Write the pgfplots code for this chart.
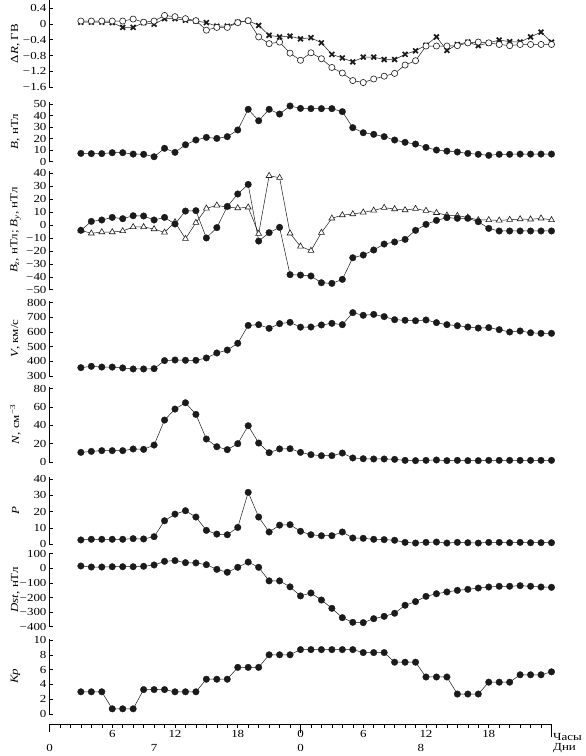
\documentclass[border=0pt]{standalone}
\usepackage{fontspec}
\setmainfont{Liberation Serif}[FakeStretch=1.2]
\usepackage{pgfplots}
\usepackage{pgfplotstable}
\pgfplotsset{compat=1.18}

\pgfplotstableread{
h dRc dRx B Bz By V N P Dst Kp
3 0.07 0.04 7.2 -4.1 -4.1 357 10.5 2.5 16 3
4 0.07 0.04 7.0 2.8 -6.4 366 11.6 2.9 9 3
5 0.07 0.04 7.0 3.9 -5.4 361 12.4 2.9 9 3
6 0.07 0.03 7.8 5.9 -5.4 361 12.4 2.9 11 0.7
7 0.07 -0.09 7.8 4.9 -4.6 355 12.4 2.9 11 0.7
8 0.12 -0.09 6.6 7.2 -1.5 348 14.2 3.3 11 0.7
9 0.04 0.03 6.4 7.0 -1.5 348 13.8 3.1 14 3.3
10 0.07 -0.01 4.3 3.9 -3.1 350 18.5 4.5 23 3.3
11 0.21 0.13 11.6 5.9 -5.7 405 45.8 14.3 48 3.3
12 0.18 0.13 8.1 0.8 2.3 409 57.8 18.4 53 3
13 0.13 0.09 14.7 10.8 -10.6 407 64.7 20.5 39 3
14 0.08 0.07 18.8 11.1 1.8 407 52 16.6 37 3
15 -0.16 0.03 21.1 -10 12.9 423 25.1 8.4 25 4.7
16 -0.09 -0.06 20.2 -2 15.2 457 16.7 6.1 -7 4.7
17 -0.09 -0.06 21.7 14.4 13.9 477 13.5 5.7 -27 4.7
18 0.03 0.04 27.5 24 13.1 523 20 10.2 7 6.3
19 0.08 0.08 45.4 31.4 13.7 645 39.6 31.8 43 6.3
20 -0.33 -0.04 35.5 -12.4 -6.7 650 20.7 16.6 7 6.3
21 -0.50 -0.29 45.4 -5.9 38.1 625 10.2 7.4 -86 8
22 -0.46 -0.33 41.3 -1.8 36.6 657 14.3 11.6 -86 8
23 -0.74 -0.31 48.3 -38.4 -6.4 666 14.5 11.9 -127 8
24 -0.92 -0.38 46.2 -38.7 -16.5 633 10.5 7.8 -189 8.7
25 -0.73 -0.35 46 -39.4 -19.8 634 8 5.7 -169 8.7
26 -0.88 -0.48 46 -44.6 -5.9 648 6.9 5.1 -217 8.7
27 -1.10 -0.77 46 -45.1 5.2 659 6.9 5.1 -274 8.7
28 -1.24 -0.86 43.4 -42 7.7 650 9.8 7.4 -338 8.7
29 -1.43 -0.96 29.5 -25.3 8.5 732 4.4 3.7 -370 8.7
30 -1.48 -0.84 25.1 -23.2 9.8 714 3.6 3.5 -372 8.3
31 -1.39 -0.84 23.7 -19.3 11.3 720 3.3 2.9 -345 8.3
32 -1.32 -0.90 21.7 -14.7 13.4 705 3.3 2.7 -329 8.3
33 -1.25 -0.90 18.8 -13.1 12.4 684 2.9 2.3 -308 7
34 -1.04 -0.77 16.8 -11.1 11.6 680 1.8 1.0 -253 7
35 -0.93 -0.68 15.3 -4.1 12.6 677 1.5 0.6 -228 7
36 -0.56 -0.54 12.4 0.5 11.1 682 1.8 1.0 -192 5
37 -0.56 -0.33 10.1 3.6 9.5 664 2.2 1.2 -174 5
38 -0.56 -0.67 9.2 5.7 7.5 650 1.5 0.6 -162 5
39 -0.55 -0.52 8.4 5.2 7.2 643 1.8 1.0 -151 2.7
40 -0.48 -0.46 7.2 5.2 5.9 634 1.5 0.8 -144 2.7
41 -0.46 -0.55 6.4 2.6 3.9 627 1.5 0.6 -135 2.7
42 -0.48 -0.48 5.5 -2.6 3.9 630 1.8 1.0 -128 4.3
43 -0.52 -0.41 6.4 -4.6 3.6 616 1.8 1.0 -123 4.3
44 -0.55 -0.45 6.4 -4.6 4.1 600 1.8 0.8 -123 4.3
45 -0.52 -0.46 6.6 -4.6 4.6 607 1.8 1.0 -119 5.3
46 -0.52 -0.33 6.6 -4.6 4.4 595 1.8 0.8 -123 5.3
47 -0.52 -0.21 6.6 -4.6 5.2 591 1.8 0.8 -128 5.3
48 -0.52 -0.46 6.6 -4.6 3.9 591 1.8 0.8 -130 5.7
}\data

\definecolor{ink}{HTML}{1A1A1A}
\newcommand{\fs}{\fontsize{10.8}{12.5}\selectfont}
\pgfplotsset{
  panel/.style={
    scale only axis, width=502pt, xmin=0, xmax=48,
    axis x line=none, axis y line*=left, clip=false,
    ytick align=inside, major tick length=3pt,
    axis line style={line width=0.5pt, black},
    tick style={line width=0.5pt, black},
    tick label style={font=\fs},
    yticklabel style={xshift=0.5pt},
    every axis y label/.style={at={(axis description cs:0,0.5)}, xshift=-34pt, rotate=90, anchor=center, font=\fs},
  },
  dots/.style={ink, line width=0.5pt, mark=*, mark size=3.3pt, mark options={fill=ink, draw=ink, line width=0.3pt}},
  ocirc/.style={ink, line width=0.5pt, mark=*, mark size=3.1pt, mark options={fill=white, draw=ink, line width=0.6pt}},
  xmark/.style={ink, line width=0.5pt, mark=x, mark size=3.4pt, mark options={line width=1.7pt}},
  otri/.style={ink, line width=0.5pt, mark=triangle*, mark size=3.4pt, mark options={fill=white, draw=ink, line width=0.6pt}},
}

\begin{document}
\begin{tikzpicture}
\path[use as bounding box] (0pt,0pt) rectangle (586pt,-756pt);

% Delta R
\begin{axis}[panel, at={(49.5pt,-87.3pt)}, anchor=south west, height=87.3pt,
  ymin=-1.6, ymax=0.6, ytick={0.4,0,-0.4,-0.8,-1.2,-1.6},
  yticklabels={0.4,0,−0.4,−0.8,−1.2,−1.6},
  ylabel={Δ\textit{R}, ГВ}]
\addplot[xmark] table[x=h,y=dRx] {\data};
\addplot[ocirc] table[x=h,y=dRc] {\data};
\end{axis}

% B
\begin{axis}[panel, at={(49.5pt,-161.7pt)}, anchor=south west, height=60pt,
  ymin=0, ymax=52, ytick={0,10,20,30,40,50},
  yticklabels={0,10,20,30,40,50},
  ylabel={\textit{B}, нТл}]
\addplot[dots] table[x=h,y=B] {\data};
\end{axis}

% Bz, By
\begin{axis}[panel, at={(49.5pt,-289.7pt)}, anchor=south west, height=119pt,
  ymin=-50, ymax=42, ytick={-50,-40,...,40},
  yticklabels={−50,−40,−30,−20,−10,0,10,20,30,40},
  ylabel={\textit{B}\textsubscript{\textit{z}}, нТл; \textit{B}\textsubscript{\textit{y}}, нТл}]
\addplot[otri] table[x=h,y=By] {\data};
\addplot[dots] table[x=h,y=Bz] {\data};
\end{axis}

% V
\begin{axis}[panel, at={(49.5pt,-376pt)}, anchor=south west, height=74.8pt,
  ymin=300, ymax=810, ytick={300,400,...,800},
  yticklabels={300,400,500,600,700,800},
  ylabel={\textit{V}, км/с}]
\addplot[dots] table[x=h,y=V] {\data};
\end{axis}

% N
\begin{axis}[panel, at={(49.5pt,-462pt)}, anchor=south west, height=75.1pt,
  ymin=0, ymax=82, ytick={0,20,40,60,80},
  yticklabels={0,20,40,60,80},
  ylabel={\textit{N}, см\textsuperscript{−3}}]
\addplot[dots] table[x=h,y=N] {\data};
\end{axis}

% P
\begin{axis}[panel, at={(49.5pt,-544pt)}, anchor=south west, height=66.6pt,
  ymin=0, ymax=41, ytick={0,10,20,30,40},
  yticklabels={0,10,20,30,40},
  ylabel={\textit{P}}]
\addplot[dots] table[x=h,y=P] {\data};
\end{axis}

% Dst
\begin{axis}[panel, at={(49.5pt,-626.7pt)}, anchor=south west, height=73.7pt,
  ymin=-400, ymax=105, ytick={-400,-300,...,100},
  yticklabels={−400,−300,−200,−100,0,100},
  ylabel={\textit{Dst}, нТл}]
\addplot[dots] table[x=h,y=Dst] {\data};
\end{axis}

% Kp
\begin{axis}[panel, at={(49.5pt,-714pt)}, anchor=south west, height=75.5pt,
  ymin=0, ymax=10.2, ytick={0,2,...,10},
  yticklabels={0,2,4,6,8,10},
  ylabel={\textit{Kp}}]
\addplot[dots] table[x=h,y=Kp] {\data};
\end{axis}

% time axis
\begin{axis}[scale only axis, width=502pt, height=10pt,
  at={(49.5pt,-724pt)}, anchor=south west,
  xmin=0, xmax=48, ymin=0, ymax=1, clip=false,
  axis x line*=bottom, axis y line=none,
  axis line style={line width=0.5pt, black},
  xtick={6,12,18,24,30,36,42}, xticklabels={6,12,18,0,6,12,18},
  minor xtick={0,1,...,48},
  xtick align=outside, major tick length=3.5pt, minor tick length=3.5pt,
  tick style={line width=0.5pt, black},
  tick label style={font=\fs},
  xticklabel style={yshift=1pt}]
\draw[line width=0.5pt] (axis cs:0,0) -- ++(0pt,-8pt);
\draw[line width=0.5pt] (axis cs:24,0) -- ++(0pt,-9pt);
\draw[line width=0.5pt] (axis cs:48,0) -- ++(0pt,-13pt);
\begin{scope}[font=\fs]
\node at (axis cs:0,0) [yshift=-24.3pt] {0};
\node at (axis cs:10,0) [yshift=-24.3pt] {7};
\node at (axis cs:24,0) [yshift=-24.3pt] {0};
\node at (axis cs:35.5,0) [yshift=-24.3pt] {8};
\node[anchor=west, inner sep=0pt] at (axis cs:48,0) [xshift=1.5pt, yshift=-12.7pt] {Часы};
\node[anchor=west, inner sep=0pt] at (axis cs:48,0) [xshift=1.5pt, yshift=-24.3pt] {Дни};
\end{scope}
\end{axis}
\end{tikzpicture}
\end{document}
